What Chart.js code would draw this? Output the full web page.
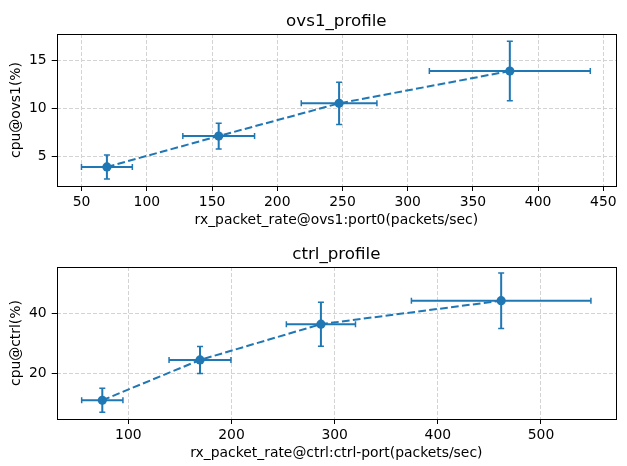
<!DOCTYPE html>
<html>
<head>
<meta charset="utf-8">
<script src="https://cdn.jsdelivr.net/npm/chart.js@4.4.1/dist/chart.umd.min.js"></script>
<style>
  html, body { margin: 0; padding: 0; background: #fff; }
  canvas { display: block; }
</style>
</head>
<body>
<canvas id="ovs1" width="627" height="233"></canvas>
<canvas id="ctrl" width="627" height="233"></canvas>
<script>
// ovs1 profile
const ovsRate = [69.4, 155.1, 247.4, 378.3];
const ovsCpu = [3.89, 7.11, 10.52, 13.89];
const ovsRateErr = [19.5, 27.5, 29, 61.7];
const ovsCpuErr = [1.25, 1.34, 2.2, 3.1];
const ovsXTicks = [50, 100, 150, 200, 250, 300, 350, 400, 450];
const ovsYTicks = [5, 10, 15];

// ctrl profile
const ctrlRate = [74.8, 169.5, 286.7, 461.4];
const ctrlCpu = [11, 24.4, 36.3, 44.1];
const ctrlRateErr = [20, 30, 33.5, 87];
const ctrlCpuErr = [4, 4.5, 7.3, 9.2];
const ctrlXTicks = [100, 200, 300, 400, 500];
const ctrlYTicks = [20, 40];

const BLUE = "#1f77b4";
const FONT = "'DejaVu Sans', sans-serif";

// error bars under the markers, frame on top
const errorBars = {
  id: "errorBars",
  beforeDatasetsDraw(chart, args, opts) {
    const ctx = chart.ctx;
    const xs = chart.scales.x, ys = chart.scales.y;
    const cap = 3;
    ctx.save();
    ctx.strokeStyle = BLUE;
    opts.x.forEach((xv, i) => {
      const px = xs.getPixelForValue(xv);
      const py = ys.getPixelForValue(opts.y[i]);
      const xl = xs.getPixelForValue(xv - opts.xErr[i]);
      const xr = xs.getPixelForValue(xv + opts.xErr[i]);
      const yt = ys.getPixelForValue(opts.y[i] + opts.yErr[i]);
      const yb = ys.getPixelForValue(opts.y[i] - opts.yErr[i]);
      ctx.lineWidth = 2;
      ctx.beginPath();
      ctx.moveTo(xl, py); ctx.lineTo(xr, py);
      ctx.moveTo(px, yt); ctx.lineTo(px, yb);
      ctx.stroke();
      ctx.lineWidth = 1.5;
      ctx.beginPath();
      ctx.moveTo(xl, py - cap); ctx.lineTo(xl, py + cap);
      ctx.moveTo(xr, py - cap); ctx.lineTo(xr, py + cap);
      ctx.moveTo(px - cap, yt); ctx.lineTo(px + cap, yt);
      ctx.moveTo(px - cap, yb); ctx.lineTo(px + cap, yb);
      ctx.stroke();
    });
    ctx.restore();
  },
  afterDraw(chart) {
    const a = chart.chartArea, ctx = chart.ctx;
    ctx.save();
    ctx.strokeStyle = "#000";
    ctx.lineWidth = 1;
    ctx.strokeRect(Math.round(a.left) + 0.5, Math.round(a.top) + 0.5,
      Math.round(a.right - a.left), Math.round(a.bottom - a.top));
    ctx.restore();
  }
};

function makeChart(id, title, xs, ys, xErr, yErr, xRange, yRange, xTicks, yTicks, xLabel, yLabel) {
  const tickSet = arr => scale => { scale.ticks = arr.map(v => ({ value: v })); };
  const gridOpts = { color: "#d3d3d3", lineWidth: 1, tickColor: "#000", tickLength: 5, tickWidth: 1 };
  const borderOpts = { display: false, dash: [4, 2] };
  return new Chart(document.getElementById(id), {
    type: "scatter",
    data: {
      datasets: [{
        data: xs.map((x, i) => ({ x: x, y: ys[i] })),
        showLine: true,
        borderColor: BLUE,
        borderWidth: 2,
        borderDash: [7.7, 3.3],
        backgroundColor: BLUE,
        pointRadius: 4.6,
        pointBorderWidth: 0,
        pointBackgroundColor: BLUE
      }]
    },
    options: {
      responsive: false,
      animation: false,
      layout: { padding: { left: 0, right: 11, top: 0, bottom: 0 } },
      plugins: {
        legend: { display: false },
        tooltip: { enabled: false },
        title: {
          display: true, text: title, color: "#000", fullSize: false,
          font: { family: FONT, size: 16.7, weight: "normal" },
          padding: { top: 12, bottom: 2 }
        },
        errorBars: { x: xs, y: ys, xErr: xErr, yErr: yErr }
      },
      scales: {
        x: {
          type: "linear", min: xRange[0], max: xRange[1],
          afterBuildTicks: tickSet(xTicks),
          afterFit: s => { s.height = 47; },
          grid: gridOpts, border: borderOpts,
          ticks: { color: "#000", padding: 3, maxRotation: 0, font: { family: FONT, size: 13.9 } },
          title: { display: true, text: xLabel, color: "#000", padding: { top: 0, bottom: 4 },
                   font: { family: FONT, size: 13.9 } }
        },
        y: {
          type: "linear", min: yRange[0], max: yRange[1],
          afterBuildTicks: tickSet(yTicks),
          afterFit: s => { s.width = 56.7; },
          grid: gridOpts, border: borderOpts,
          ticks: { color: "#000", padding: 5, font: { family: FONT, size: 13.9 } },
          title: { display: true, text: yLabel, color: "#000", padding: { top: 8, bottom: 0 },
                   font: { family: FONT, size: 13.9 } }
        }
      }
    },
    plugins: [errorBars]
  });
}

makeChart("ovs1", "ovs1_profile", ovsRate, ovsCpu, ovsRateErr, ovsCpuErr,
  [30.9, 459.7], [1.9, 17.75], ovsXTicks, ovsYTicks,
  "rx_packet_rate@ovs1:port0(packets/sec)", "cpu@ovs1(%)");

makeChart("ctrl", "ctrl_profile", ctrlRate, ctrlCpu, ctrlRateErr, ctrlCpuErr,
  [30.6, 572.7], [4.77, 55.3], ctrlXTicks, ctrlYTicks,
  "rx_packet_rate@ctrl:ctrl-port(packets/sec)", "cpu@ctrl(%)");
</script>
</body>
</html>
